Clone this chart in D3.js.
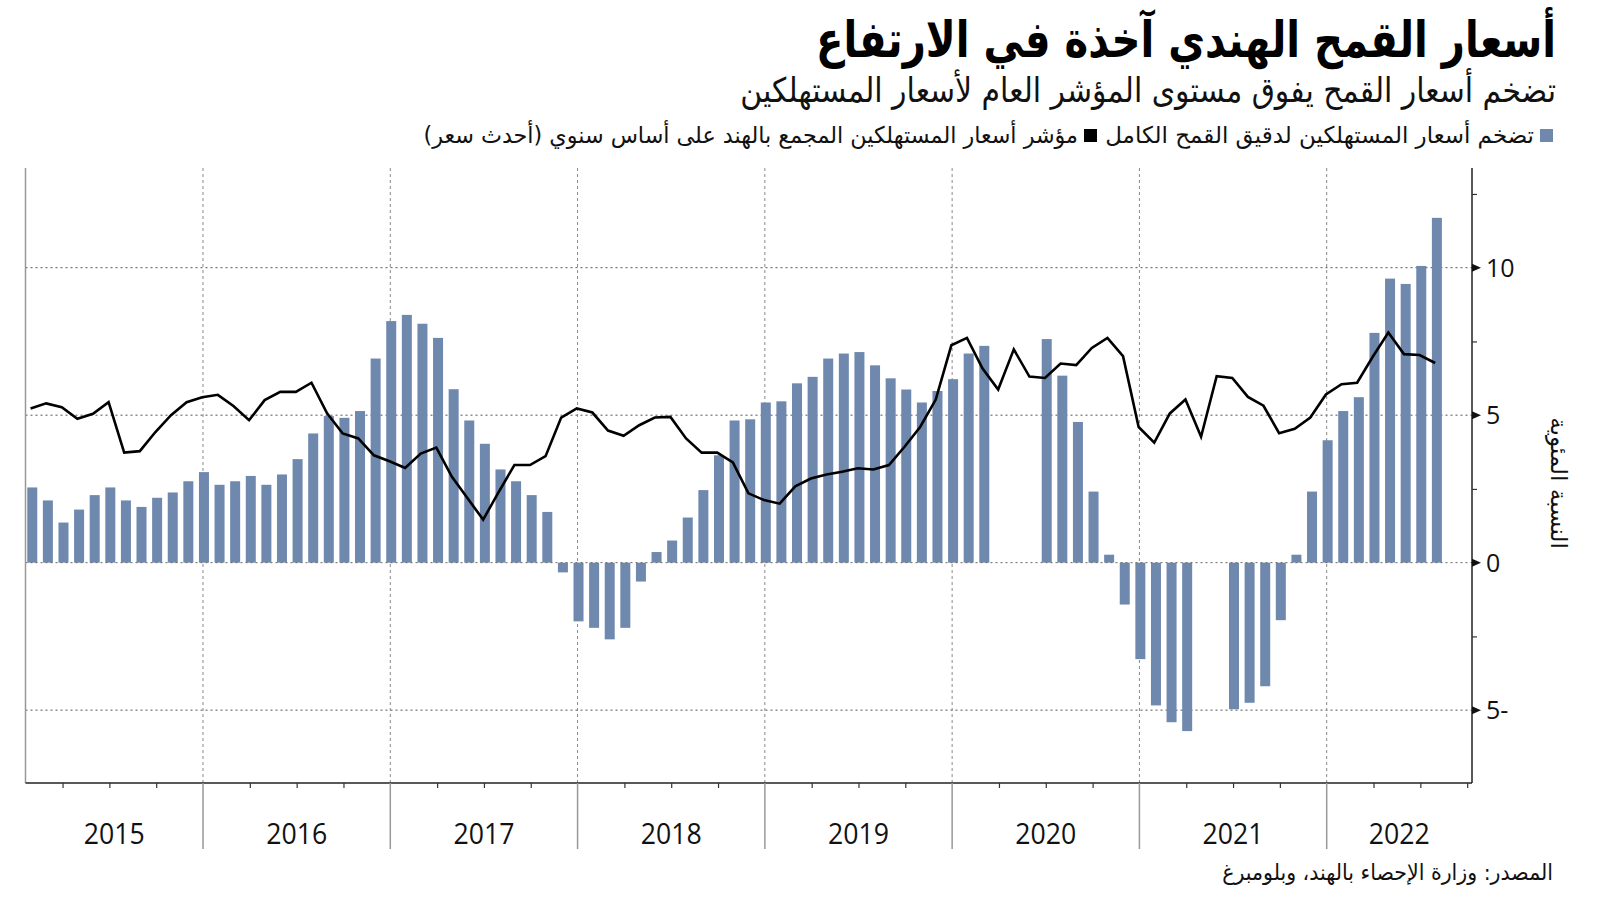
<!DOCTYPE html>
<html><head><meta charset="utf-8">
<script src="https://cdn.jsdelivr.net/npm/d3@7"></script>
<style>
html,body{margin:0;padding:0;background:#fff;}
svg{display:block;}
</style>
</head><body>
<svg id="chart" width="1600" height="901"></svg>
<script>
// ---- data ----
const years = ["2015","2016","2017","2018","2019","2020","2021","2022"];
// monthly, Jan 2015 .. Jul 2022 (null = not published)
const wheatCPI = [
  2.55, 2.11, 1.36, 1.80, 2.29, 2.55, 2.11, 1.89, 2.20, 2.38, 2.76, 3.07,
  2.64, 2.76, 2.94, 2.64, 2.99, 3.51, 4.38, 4.97, 4.91, 5.14, 6.92, 8.19,
  8.40, 8.10, 7.62, 5.88, 4.82, 4.03, 3.16, 2.76, 2.29, 1.72, -0.33, -1.99,
  -2.21, -2.60, -2.21, -0.64, 0.36, 0.75, 1.53, 2.46, 3.64, 4.82, 4.86, 5.43,
  5.47, 6.08, 6.30, 6.92, 7.09, 7.14, 6.69, 6.25, 5.87, 5.43, 5.82, 6.22,
  7.09, 7.35, null, null, null, 7.58, 6.34, 4.77, 2.41, 0.27, -1.42, -3.27,
  -4.84, -5.41, -5.71, null, null, -4.97, -4.75, -4.19, -1.95, 0.27, 2.41, 4.15,
  5.14, 5.61, 7.79, 9.63, 9.45, 10.06, 11.69
];
const headlineCPI = [
  5.23, 5.40, 5.27, 4.88, 5.05, 5.44, 3.73, 3.78, 4.43, 5.00, 5.44, 5.61,
  5.69, 5.31, 4.83, 5.51, 5.79, 5.79, 6.10, 5.06, 4.38, 4.21, 3.64, 3.44,
  3.21, 3.70, 3.90, 2.91, 2.18, 1.46, 2.40, 3.31, 3.31, 3.61, 4.92, 5.23,
  5.09, 4.48, 4.30, 4.66, 4.92, 4.94, 4.21, 3.73, 3.73, 3.40, 2.35, 2.12,
  2.00, 2.59, 2.85, 2.99, 3.08, 3.20, 3.16, 3.31, 3.93, 4.60, 5.53, 7.37,
  7.62, 6.58, 5.87, 7.23, 6.31, 6.26, 6.75, 6.70, 7.28, 7.62, 7.00, 4.60,
  4.07, 5.06, 5.53, 4.27, 6.32, 6.26, 5.62, 5.32, 4.39, 4.54, 4.92, 5.70,
  6.05, 6.10, 6.98, 7.80, 7.07, 7.04, 6.77
];
const yTicks = [-5, 0, 5, 10];
const yTickLabels = ["5-", "0", "5", "10"];
const yMinorTicks = [-2.5, 2.5, 7.5, 12.5];

const titleText = "أسعار القمح الهندي آخذة في الارتفاع";
const subtitleText = "تضخم أسعار القمح يفوق مستوى المؤشر العام لأسعار المستهلكين";
const legendWheat = "تضخم أسعار المستهلكين لدقيق القمح الكامل";
const legendCPI = "مؤشر أسعار المستهلكين المجمع بالهند على أساس سنوي (أحدث سعر)";
const yTitle = "النسبة المئوية";
const sourceText = "المصدر: وزارة الإحصاء بالهند، وبلومبرغ";

// ---- layout ----
const L = 25.5, R = 1472, T = 168, B = 783;
const barColor = "#6f88ad";
const arabicFont = "'DejaVu Sans', 'Noto Sans', sans-serif";
const numFont = "'Open Sans', 'Noto Sans', sans-serif";

const svg = d3.select("#chart");
svg.append("rect").attr("width",1600).attr("height",901).attr("fill","#fff");

// x scale: months since Jan 2015 (month index, values plotted at month end)
const x = d3.scaleLinear().domain([0.626, 93.31]).range([L, R]);
const y = d3.scaleLinear().domain([-7.47, 13.38]).range([B, T]);

const g = svg.append("g");

// horizontal gridlines (except zero, drawn above bars)
g.selectAll("line.hgrid").data(yTicks.filter(d => d !== 0)).join("line")
  .attr("class","hgrid")
  .attr("x1", L).attr("x2", R)
  .attr("y1", d => y(d)).attr("y2", d => y(d))
  .attr("stroke", "#555").attr("stroke-width", 1).attr("stroke-dasharray", "2,3");

// vertical year gridlines
const yearStarts = d3.range(1, years.length).map(k => k * 12);
g.selectAll("line.vgrid").data(yearStarts).join("line")
  .attr("x1", d => x(d)).attr("x2", d => x(d))
  .attr("y1", T).attr("y2", B)
  .attr("stroke", "#888").attr("stroke-width", 1).attr("stroke-dasharray", "3,3");

// bars
const barData = wheatCPI.map((v, i) => ({i, v})).filter(d => d.v !== null);
g.selectAll("rect.bar").data(barData).join("rect")
  .attr("class","bar")
  .attr("x", d => x(d.i + 1.06) - 5)
  .attr("width", 10)
  .attr("y", d => Math.min(y(d.v), y(0)))
  .attr("height", d => Math.abs(y(d.v) - y(0)))
  .attr("fill", barColor);

// zero gridline
g.append("line")
  .attr("x1", L).attr("x2", R).attr("y1", y(0)).attr("y2", y(0))
  .attr("stroke", "#666").attr("stroke-width", 1).attr("stroke-dasharray", "2,3");

// CPI line
const line = d3.line().x((d, i) => x(i + 0.95)).y(d => y(d));
g.append("path").datum(headlineCPI)
  .attr("d", line).attr("fill", "none")
  .attr("stroke", "#000").attr("stroke-width", 2.6)
  .attr("stroke-linejoin", "miter");

// left axis line
g.append("line").attr("x1", L).attr("x2", L).attr("y1", T).attr("y2", B)
  .attr("stroke", "#999").attr("stroke-width", 1.5);

// bottom axis with quarterly ticks
const quarterTicks = d3.range(3, 94, 3).filter(m => m % 12 !== 0 && x(m) <= R);
const xAxis = d3.axisBottom(x).tickValues(quarterTicks).tickSize(5).tickFormat("");
const xg = svg.append("g").attr("transform", `translate(0,${B})`).call(xAxis);
xg.select(".domain").attr("stroke", "#222").attr("stroke-width", 1.5).attr("d", `M${L},0H${R}`);
xg.selectAll(".tick line").attr("stroke", "#333").attr("stroke-width", 1.2);

// year separators below axis
svg.selectAll("line.ysep").data(yearStarts).join("line")
  .attr("x1", d => x(d)).attr("x2", d => x(d))
  .attr("y1", B).attr("y2", 849)
  .attr("stroke", "#999").attr("stroke-width", 1.5);

// year labels centred in visible span
svg.selectAll("text.year").data(years).join("text")
  .attr("class","year")
  .attr("x", (d, k) => (Math.max(x(k * 12), L) + Math.min(x((k + 1) * 12), R)) / 2)
  .attr("y", 844)
  .attr("text-anchor", "middle")
  .attr("font-family", numFont).attr("font-size", 30)
  .attr("textLength", 61).attr("lengthAdjust", "spacingAndGlyphs")
  .attr("fill", "#111")
  .text(d => d);

// right axis
const yAxis = d3.axisRight(y).tickValues(yTicks).tickSize(0).tickPadding(14)
  .tickFormat((d, k) => yTickLabels[k]);
const yg = svg.append("g").attr("transform", `translate(${R},0)`).call(yAxis);
yg.select(".domain").attr("stroke", "#222").attr("stroke-width", 1.5).attr("d", `M0,${T}V${B}`);
yg.selectAll(".tick text").attr("font-family", numFont).attr("font-size", 25)
  .attr("fill", "#111").attr("dy", "0.35em");
// triangles at major ticks
yg.selectAll("path.tri").data(yTicks).join("path")
  .attr("d", d => `M0,${y(d) - 4}L9,${y(d)}L0,${y(d) + 4}Z`).attr("fill", "#111");
// minor ticks
const yMinor = d3.axisRight(y).tickValues(yMinorTicks).tickSize(5).tickFormat("");
const ym = svg.append("g").attr("transform", `translate(${R},0)`).call(yMinor);
ym.select(".domain").remove();
ym.selectAll(".tick line").attr("stroke", "#333").attr("stroke-width", 1.2);

// y title (rotated)
svg.append("text")
  .attr("transform", "translate(1551,483) rotate(90)")
  .attr("text-anchor", "middle")
  .attr("font-family", arabicFont).attr("font-size", 23).attr("fill", "#111")
  .text(yTitle);

// helper: right-aligned text compressed/stretched to a given width
function fitText(txt, xr, yb, width, size, weight, color) {
  const t = svg.append("text")
    .attr("text-anchor", "end")
    .attr("font-family", arabicFont).attr("font-size", size)
    .attr("font-weight", weight).attr("fill", color)
    .text(txt);
  const w = t.node().getComputedTextLength();
  const s = w > 0 ? width / w : 1;
  t.attr("transform", `translate(${xr},${yb}) scale(${s},1)`);
  return t;
}

fitText(titleText, 1556, 57, 740, 50, "bold", "#000");
fitText(subtitleText, 1556, 102, 816, 34, "normal", "#111");

// legend
svg.append("rect").attr("x", 1540).attr("y", 129).attr("width", 13).attr("height", 13).attr("fill", barColor);
fitText(legendWheat, 1534, 143, 429, 23, "normal", "#111");
svg.append("rect").attr("x", 1084).attr("y", 129).attr("width", 13).attr("height", 13).attr("fill", "#000");
fitText(legendCPI, 1078, 143, 655, 23, "normal", "#111");

// source
fitText(sourceText, 1553, 880, 331, 22, "normal", "#111");
</script>
</body></html>
